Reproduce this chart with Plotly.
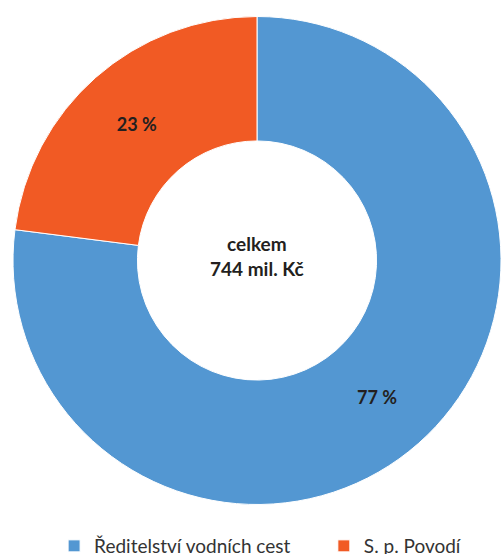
import plotly.graph_objects as go

labels = ["Ředitelství vodních cest", "S. p. Povodí"]
values = [573, 171]
text_labels = ["77 %", "23 %"]
colors = ["#5397D2", "#F15A24"]
center_text = "celkem<br>744 mil. Kč"

W, H = 501, 554

# em spaces widen the first legend entry so the second starts where the reference has it
legend_labels = [labels[0] + "\u2003\u2003", labels[1]]

fig = go.Figure(go.Pie(
    labels=legend_labels,
    values=values,
    text=text_labels,
    textinfo="text",
    textposition="inside",
    insidetextorientation="horizontal",
    hole=0.49,
    sort=False,
    direction="clockwise",
    rotation=0,
    marker=dict(colors=colors, line=dict(color="white", width=1)),
    textfont=dict(family="Lato", size=18, color="#231F20", weight="bold"),
    domain=dict(x=[13 / W, 1.0], y=[(H - 505) / H, (H - 16) / H]),
    showlegend=True,
))

fig.add_annotation(
    x=257 / W, y=(H - 256) / H, xref="paper", yref="paper",
    text="<b>" + center_text + "</b>", showarrow=False,
    font=dict(family="Lato", size=19, color="#231F20"),
    align="center",
)

fig.update_layout(
    width=W, height=H,
    margin=dict(l=0, r=0, t=0, b=0, autoexpand=False),
    paper_bgcolor="white",
    plot_bgcolor="white",
    legend=dict(
        orientation="h",
        x=0.108, xanchor="left",
        y=(H - 546) / H, yanchor="middle",
        font=dict(family="Lato", size=19, color="#333333"),
        traceorder="normal",
    ),
)

fig.write_html(
    "out.html",
    config={"displayModeBar": False},
    post_script="document.body.style.margin='0';document.body.style.overflow='hidden';",
)
